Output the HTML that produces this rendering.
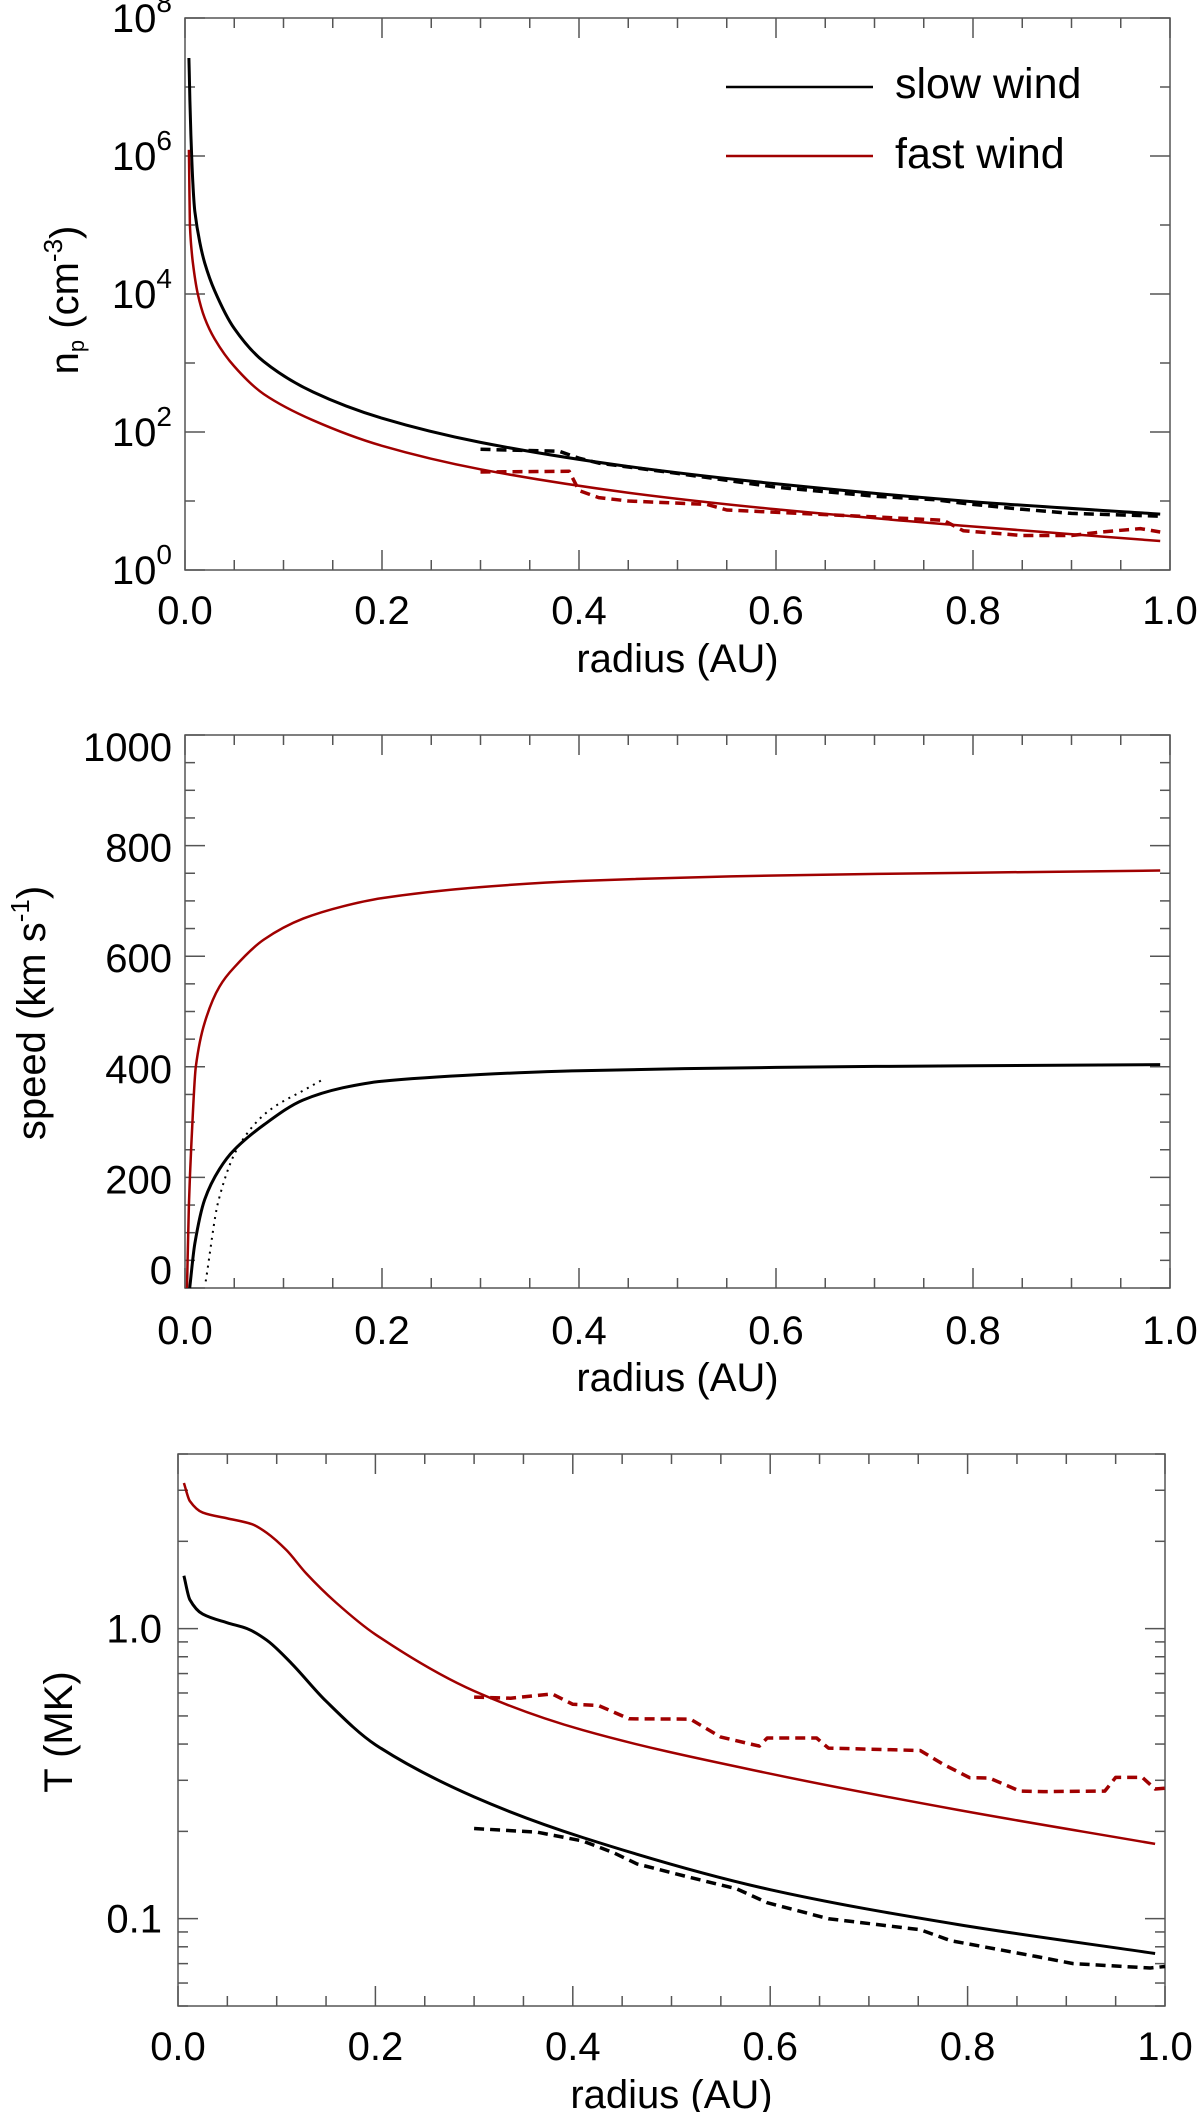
<!DOCTYPE html>
<html><head><meta charset="utf-8"><style>
html,body{margin:0;padding:0;background:#fff;}
svg{display:block;font-family:"Liberation Sans",Arial,sans-serif;}
</style></head><body>
<svg id="fig" width="1200" height="2112" viewBox="0 0 1200 2112"></svg>
<script>
// ---------- Panel 1: density (log10 cm^-3) ----------
const densR_slow = [0.004,0.005,0.006,0.008,0.01,0.015,0.02,0.03,0.05,0.08,0.13,0.2,0.3,0.45,0.6,0.8,0.99];
const densLog_slow = [7.42,6.8,6.3,5.6,5.2,4.75,4.45,4.05,3.5,3.02,2.58,2.2,1.85,1.5,1.25,0.99,0.81];
const densR_fast = [0.004,0.0045,0.005,0.006,0.008,0.013,0.02,0.03,0.05,0.08,0.13,0.2,0.3,0.45,0.6,0.8,0.99];
const densLog_fast = [6.09,5.5,5.0,4.75,4.45,4.0,3.65,3.35,2.95,2.55,2.17,1.8,1.46,1.12,0.88,0.63,0.42];
const densObsR_slow = [0.3,0.38,0.4,0.42,0.5,0.6,0.7,0.76,0.8,0.85,0.9,0.99];
const densObsLog_slow = [1.75,1.72,1.62,1.55,1.4,1.2,1.07,1.02,0.95,0.88,0.82,0.78];
const densObsR_fast = [0.3,0.39,0.4,0.42,0.45,0.53,0.55,0.7,0.77,0.79,0.85,0.9,0.93,0.97,0.99];
const densObsLog_fast = [1.42,1.43,1.15,1.05,1.0,0.95,0.87,0.77,0.72,0.57,0.5,0.5,0.55,0.6,0.55];
// ---------- Panel 2: speed (km/s) ----------
const spdR_fast = [0.002,0.004,0.007,0.011,0.02,0.035,0.05,0.08,0.12,0.16,0.2,0.3,0.4,0.6,0.8,0.99];
const spd_fast = [0,150,280,400,480,545,580,630,668,690,705,725,736,746,751,755];
const spdR_slow = [0.0048,0.01,0.02,0.035,0.05,0.08,0.12,0.16,0.2,0.3,0.4,0.6,0.8,0.99];
const spd_slow = [0,80,160,215,250,295,340,362,374,386,393,399,402,404];
const spdR_dot = [0.021,0.034,0.054,0.084,0.123,0.14];
const spd_dot = [12,158,255,319,360,377];
// ---------- Panel 3: temperature (log10 MK) ----------
const tR_fast = [0.006,0.012,0.025,0.05,0.075,0.09,0.11,0.13,0.16,0.2,0.3,0.41,0.6,0.79,0.99];
const tLog_fast = [0.502,0.44,0.40,0.38,0.36,0.33,0.27,0.19,0.09,-0.02,-0.215,-0.35,-0.5,-0.625,-0.742];
const tR_slow = [0.006,0.012,0.025,0.05,0.07,0.09,0.115,0.15,0.2,0.3,0.41,0.6,0.79,0.99];
const tLog_slow = [0.182,0.10,0.05,0.02,0.0,-0.04,-0.12,-0.25,-0.4,-0.58,-0.72,-0.9,-1.02,-1.12];
const tObsR_fast = [0.3,0.337,0.379,0.4,0.426,0.457,0.519,0.55,0.589,0.597,0.647,0.659,0.752,0.775,0.802,0.822,0.853,0.877,0.939,0.95,0.977,0.99,1.0];
const tObsLog_fast = [-0.236,-0.24,-0.225,-0.261,-0.265,-0.311,-0.312,-0.374,-0.405,-0.377,-0.377,-0.412,-0.42,-0.467,-0.514,-0.515,-0.56,-0.562,-0.56,-0.513,-0.513,-0.553,-0.55];
const tObsR_slow = [0.3,0.364,0.41,0.441,0.465,0.519,0.566,0.597,0.659,0.752,0.783,0.869,0.907,0.985,1.0];
const tObsLog_slow = [-0.689,-0.702,-0.732,-0.772,-0.811,-0.858,-0.897,-0.945,-1.0,-1.038,-1.076,-1.13,-1.155,-1.17,-1.165];
const xTicks = ["0.0","0.2","0.4","0.6","0.8","1.0"];
const spdTicks = ["0","200","400","600","800","1000"];
const densTicks = ["0","2","4","6","8"];
const tTicks = ["0.1","1.0"];

const NS="http://www.w3.org/2000/svg";
const svg=document.getElementById('fig');
const RED="#a00000", AX="#555";
function mk(tag,attrs,parent){const e=document.createElementNS(NS,tag);for(const k in attrs)e.setAttribute(k,attrs[k]);(parent||svg).appendChild(e);return e;}
function panel(L,R,T,B){return {L,R,T,B,x:r=>L+(R-L)*r};}
function smoothPath(P){
  const n=P.length; if(n<3) return P.map((p,i)=>(i?'L':'M')+p[0].toFixed(1)+','+p[1].toFixed(1)).join(' ');
  const d=[],m=[];
  for(let i=0;i<n-1;i++)d.push((P[i+1][1]-P[i][1])/(P[i+1][0]-P[i][0]));
  m[0]=d[0];m[n-1]=d[n-2];
  for(let i=1;i<n-1;i++)m[i]=(d[i-1]*d[i]<=0)?0:2/(1/d[i-1]+1/d[i]);
  let s='M'+P[0][0].toFixed(1)+','+P[0][1].toFixed(1);
  for(let i=0;i<n-1;i++){const h=(P[i+1][0]-P[i][0])/3;
    s+=' C'+(P[i][0]+h).toFixed(1)+','+(P[i][1]+m[i]*h).toFixed(1)+' '+(P[i+1][0]-h).toFixed(1)+','+(P[i+1][1]-m[i+1]*h).toFixed(1)+' '+P[i+1][0].toFixed(1)+','+P[i+1][1].toFixed(1);}
  return s;
}
function line(p,xs,ys,yf,color,w,dash,name,smooth){
  const P=xs.map((r,i)=>[p.x(r),yf(ys[i])]);
  const d=smooth?smoothPath(P):P.map((q,i)=>(i?'L':'M')+q[0].toFixed(1)+','+q[1].toFixed(1)).join(' ');
  const a={d:d,fill:'none',stroke:color,'stroke-width':w,'stroke-linejoin':'round'};
  if(dash)a['stroke-dasharray']=dash;
  const e=mk('path',a);
  
  
}
function frame(p,name){
  const e=mk('rect',{x:p.L,y:p.T,width:p.R-p.L,height:p.B-p.T,fill:'none',stroke:AX,'stroke-width':1.5});
  
  
  for(let i=0;i<=20;i++){const r=i*0.05,x=p.x(r),len=(i%4==0)?20:10;
    mk('line',{x1:x,y1:p.B,x2:x,y2:p.B-len,stroke:AX,'stroke-width':1.5});
    mk('line',{x1:x,y1:p.T,x2:x,y2:p.T+len,stroke:AX,'stroke-width':1.5});}
}
function ytick(p,y,major){const len=major?20:10;
  mk('line',{x1:p.L,y1:y,x2:p.L+len,y2:y,stroke:AX,'stroke-width':1.5});
  mk('line',{x1:p.R,y1:y,x2:p.R-len,y2:y,stroke:AX,'stroke-width':1.5});}
function xlabels(p,base,titleBase,name){
  xTicks.forEach((t,i)=>{const e=mk('text',{x:p.x(i*0.2),y:base,'font-size':40,'text-anchor':'middle'});e.textContent=t;
    
    });
  const e=mk('text',{x:(p.L+p.R)/2,y:titleBase,'font-size':40,'text-anchor':'middle'});e.textContent='radius (AU)';
  
  
}
function ytitle(cx,cy,html,name){
  const e=mk('text',{x:0,y:0,'font-size':40,'text-anchor':'middle',transform:`translate(${cx},${cy}) rotate(-90)`});
  e.innerHTML=html;
  
  
}

// Panel 1
const p1=panel(185,1170,18,570);
const y1=v=>p1.B-(v/8)*(p1.B-p1.T);
frame(p1,'density-plot-frame');
for(let d=0;d<=8;d++)ytick(p1,y1(d),d%2==0);
densTicks.forEach(t=>{const y=y1(+t);const e=mk('text',{x:172,y:y+14,'font-size':40,'text-anchor':'end'});
  e.innerHTML='10<tspan dy="-20" font-size="28">'+t+'</tspan>';
  
  });
xlabels(p1,624,672,'density-x-axis-title');
ytitle(78,300,'n<tspan font-size="22" dy="6">p</tspan><tspan dy="-6"> (cm</tspan><tspan font-size="26" dy="-16">-3</tspan><tspan dy="16">)</tspan>','density-y-axis-title');
line(p1,densR_slow,densLog_slow,y1,'#000',3,null,'density-slow-model',true);
line(p1,densR_fast,densLog_fast,y1,RED,2.5,null,'density-fast-model',true);
line(p1,densObsR_slow,densObsLog_slow,y1,'#000',3.5,'10,6','density-slow-observed',false);
line(p1,densObsR_fast,densObsLog_fast,y1,RED,3.5,'10,6','density-fast-observed',false);
[['slow wind','#000',87,98,'legend-slow-wind'],['fast wind',RED,156,168,'legend-fast-wind']].forEach(l=>{
  const g=mk('g',{});
  
  
  mk('line',{x1:726,y1:l[2],x2:873,y2:l[2],stroke:l[1],'stroke-width':2.5},g);
  const t=mk('text',{x:895,y:l[3],'font-size':43},g);t.textContent=l[0];
});

// Panel 2
const p2=panel(185,1170,735,1288);
const y2=v=>p2.B-(v/1000)*(p2.B-p2.T);
frame(p2,'speed-plot-frame');
for(let v=0;v<=1000;v+=50)ytick(p2,y2(v),v%200==0);
spdTicks.forEach(t=>{let y=y2(+t)+16;if(t==='1000')y=y2(1000)+26;if(t==='0')y=y2(0)-4;
  const e=mk('text',{x:172,y:y,'font-size':40,'text-anchor':'end'});e.textContent=t;
  
  });
xlabels(p2,1344,1391,'speed-x-axis-title');
ytitle(45,1013,'speed (km s<tspan font-size="26" dy="-16">-1</tspan><tspan dy="16">)</tspan>','speed-y-axis-title');
line(p2,spdR_fast,spd_fast,y2,RED,2.5,null,'speed-fast-model',true);
line(p2,spdR_slow,spd_slow,y2,'#000',3,null,'speed-slow-model',true);
line(p2,spdR_dot,spd_dot,y2,'#000',2,'2,5','speed-slow-dotted',true);

// Panel 3
const p3=panel(178,1165,1454,2006);
const lmin=Math.log10(0.05),lmax=Math.log10(4);
const y3=v=>p3.B-((v-lmin)/(lmax-lmin))*(p3.B-p3.T);
frame(p3,'temperature-plot-frame');
[0.05,0.06,0.07,0.08,0.09,0.1,0.2,0.3,0.4,0.5,0.6,0.7,0.8,0.9,1,2,3,4].forEach(v=>ytick(p3,y3(Math.log10(v)),v===0.1||v===1));
tTicks.forEach(t=>{const e=mk('text',{x:162,y:y3(Math.log10(+t))+14,'font-size':40,'text-anchor':'end'});e.textContent=t;
  
  });
xlabels(p3,2060,2108,'temperature-x-axis-title');
ytitle(72,1732,'T (MK)','temperature-y-axis-title');
line(p3,tR_fast,tLog_fast,y3,RED,2.5,null,'temperature-fast-model',true);
line(p3,tR_slow,tLog_slow,y3,'#000',3,null,'temperature-slow-model',true);
line(p3,tObsR_fast,tObsLog_fast,y3,RED,3.5,'10,6','temperature-fast-observed',false);
line(p3,tObsR_slow,tObsLog_slow,y3,'#000',3.5,'10,6','temperature-slow-observed',false);
</script>
</body></html>
